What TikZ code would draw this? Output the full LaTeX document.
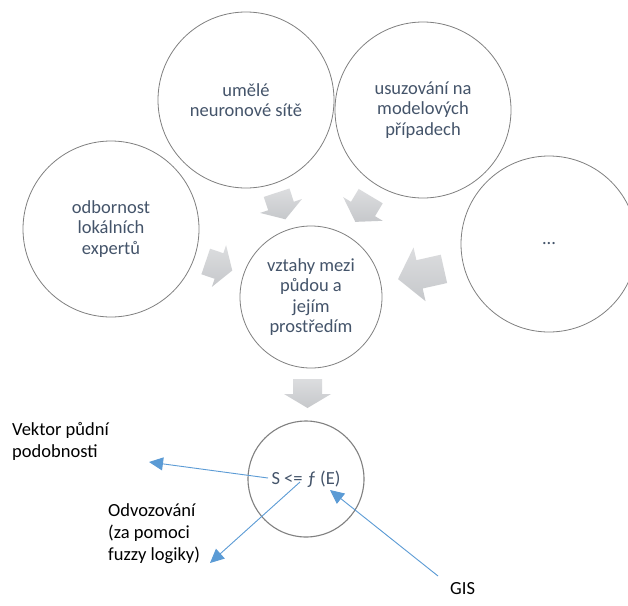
\documentclass[tikz,border=0pt]{standalone}
\usepackage{fontspec}
\setmainfont{Carlito}
\usetikzlibrary{arrows.meta}
\definecolor{slate}{HTML}{44546A}
\definecolor{ring}{HTML}{808080}
\definecolor{blu}{HTML}{5B9BD5}
\definecolor{ga}{HTML}{DCDDDF}
\definecolor{gb}{HTML}{C6C8CB}
\tikzset{
  bub/.style={circle, draw=ring, line width=0.8pt, inner sep=0pt, align=center,
    text=slate, font=\fontsize{18.5}{20.3}\selectfont},
  lbl/.style={align=left, inner sep=0pt, font=\fontsize{18.5}{22}\selectfont, text=black},
  link/.style={draw=blu, line width=0.9pt, -{Triangle[length=14pt,width=13pt]}},
  grayfill/.style={top color=ga, bottom color=gb, draw=none},
}
% x, y, angle, length, head width, tail width, head length
\newcommand{\grayarrow}[7]{%
  \begin{scope}[shift={(#1,#2)}, rotate=#3]
    \path[grayfill] (-#4/2,-#6/2) -- (#4/2-#7,-#6/2) -- (#4/2-#7,-#5/2) -- (#4/2,0)
      -- (#4/2-#7,#5/2) -- (#4/2-#7,#6/2) -- (-#4/2,#6/2) -- cycle;
  \end{scope}}
\begin{document}
\begin{tikzpicture}[x=1pt, y=-1pt]
  \useasboundingbox (0,0) rectangle (628,605);
  \clip (0,0) rectangle (628,605);
  \fill[white] (0,0) rectangle (628,605);

  % grey block arrows
  \grayarrow{281}{206}{-71.7}{28}{44}{27}{14}
  \grayarrow{363}{209}{-120.9}{30}{46}{28}{15}
  \grayarrow{219}{266}{-18.8}{28}{44}{27}{14}
  \grayarrow{421}{274}{-167.4}{47}{55}{29}{22}
  \grayarrow{307.5}{393.5}{-90}{29}{47}{29}{14}

  % circles
  \node[bub, minimum size=176pt] (tl) at (246,100) {umělé\\neuronové sítě};
  \node[bub, minimum size=176pt] (tr) at (423,110) {usuzování na\\modelových\\případech};
  \node[bub, minimum size=176pt] (lf) at (111,229) {odbornost\\lokálních\\expertů};
  \node[bub, minimum size=176pt] (rt) at (549,244) {...};
  \node[bub, minimum size=142pt] (c) at (311,297) {vztahy mezi\\půdou a\\jejím\\prostředím};
  \node[bub, minimum size=116pt, line width=1.1pt] (f) at (306,479) {S <= ƒ (E)};

  % labels
  \node[lbl, anchor=base west] (vek) at (12,457) {Vektor půdní\\podobnosti};
  \node[lbl, anchor=base west] (odv) at (108,560) {Odvozování\\(za pomoci\\fuzzy logiky)};
  \node[lbl, anchor=base west] (gis) at (450,594) {GIS};

  % blue connectors
  \coordinate (vs) at (268,478); \coordinate (ve) at (149,462);
  \coordinate (os) at (300,482); \coordinate (oe) at (210,563);
  \coordinate (gs) at (438,576); \coordinate (ge) at (330,490);
  \draw[link] (vs) -- (ve);
  \draw[link] (os) -- (oe);
  \draw[link] (gs) -- (ge);
\end{tikzpicture}
\end{document}
